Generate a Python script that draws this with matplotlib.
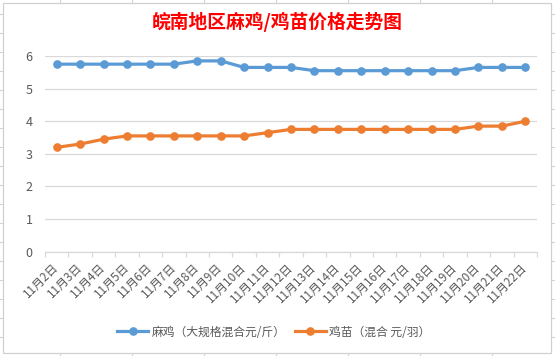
import matplotlib
matplotlib.use("Agg")
import matplotlib.pyplot as plt
from matplotlib.lines import Line2D
from matplotlib.patches import Rectangle

plt.rcParams['font.family'] = ['Noto Sans CJK SC', 'DejaVu Sans']

title = "皖南地区麻鸡/鸡苗价格走势图"
dates = ["11月2日", "11月3日", "11月4日", "11月5日", "11月6日", "11月7日", "11月8日",
         "11月9日", "11月10日", "11月11日", "11月12日", "11月13日", "11月14日", "11月15日",
         "11月16日", "11月17日", "11月18日", "11月19日", "11月20日", "11月21日", "11月22日"]
maji = [5.75, 5.75, 5.75, 5.75, 5.75, 5.75, 5.85, 5.85, 5.65, 5.65, 5.65,
        5.55, 5.55, 5.55, 5.55, 5.55, 5.55, 5.55, 5.65, 5.65, 5.65]
jimiao = [3.2, 3.3, 3.45, 3.55, 3.55, 3.55, 3.55, 3.55, 3.55, 3.65, 3.75,
          3.75, 3.75, 3.75, 3.75, 3.75, 3.75, 3.75, 3.85, 3.85, 4.0]
series_names = ["麻鸡（大规格混合元/斤）", "鸡苗（混合 元/羽）"]
yticks = [0, 1, 2, 3, 4, 5, 6]

W, H = 555, 356
fig = plt.figure(figsize=(W / 100, H / 100), dpi=100)
fig.patch.set_facecolor("white")

def px(x0, y0):
    return x0 / W, 1 - y0 / H

grid_c = "#D4D4D4"
# spreadsheet cell lines outside the chart
for xc in [60, 132, 204, 276, 348, 420, 492]:
    fig.add_artist(Line2D([xc / W, xc / W], [1, 1 - 2.5 / H], color=grid_c, lw=0.8))
    fig.add_artist(Line2D([xc / W, xc / W], [0, 1 - 352.7 / H], color=grid_c, lw=0.8))
for yr in range(14, 340, 19):
    yy = 1 - yr / H
    fig.add_artist(Line2D([0, 3 / W], [yy, yy], color=grid_c, lw=0.8))
    fig.add_artist(Line2D([551 / W, 1], [yy, yy], color=grid_c, lw=0.8))
# chart border
fig.add_artist(Rectangle((3 / W, 1 - 352.7 / H), (551 - 3) / W, (352.7 - 2.5) / H,
                         fill=False, edgecolor="#D0D0D0", lw=0.9))

left, right, top, bottom = 45, 537, 56, 251.7
ax = fig.add_axes([left / W, 1 - bottom / H, (right - left) / W, (bottom - top) / H])

x = list(range(len(dates)))
blue, orange = "#5B9BD5", "#ED7D31"
ax.plot(x, maji, color=blue, lw=2.3, marker="o", markersize=5.2, label=series_names[0],
        solid_capstyle="round", zorder=3)
ax.plot(x, jimiao, color=orange, lw=2.3, marker="o", markersize=5.2, label=series_names[1],
        solid_capstyle="round", zorder=3)

ax.set_xlim(-0.5, len(dates) - 0.5)
ax.set_ylim(0, 6)
ax.set_yticks(yticks)
ax.set_yticklabels([str(v) for v in yticks])
ax.grid(axis="y", color="#D9D9D9", lw=0.9)
ax.set_axisbelow(True)
for s in ["top", "right", "left"]:
    ax.spines[s].set_visible(False)
ax.spines["bottom"].set_color("#D9D9D9")
ax.spines["bottom"].set_linewidth(0.9)

ax.tick_params(axis="y", length=0, pad=9, labelcolor="#595959", labelsize=9)
ax.set_xticks(x)
ax.set_xticklabels(dates, rotation=45, ha="right", va="center", rotation_mode="anchor",
                   fontsize=8.5, color="#595959")
ax.tick_params(axis="x", which="major", length=0, pad=10)
ax.set_xticks([i - 0.5 for i in range(len(dates) + 1)], minor=True)
ax.tick_params(axis="x", which="minor", length=3.5, color="#D9D9D9", width=0.9)

fig.text(277 / W, 1 - 22 / H, title, color="#FF0000", fontsize=13.5, fontweight="bold",
         ha="center", va="center")

handles = [Line2D([0], [0], color=blue, lw=2.3, marker="o", markersize=5.2),
           Line2D([0], [0], color=orange, lw=2.3, marker="o", markersize=5.2)]
leg = fig.legend(handles, series_names, loc="center", bbox_to_anchor=(274 / W, 1 - 332 / H),
                 ncol=2, frameon=False, fontsize=8.5, handlelength=2.6, handletextpad=0.3,
                 columnspacing=0.8)
for t in leg.get_texts():
    t.set_color("#595959")

fig.savefig("out.png", dpi=100, facecolor="white")
